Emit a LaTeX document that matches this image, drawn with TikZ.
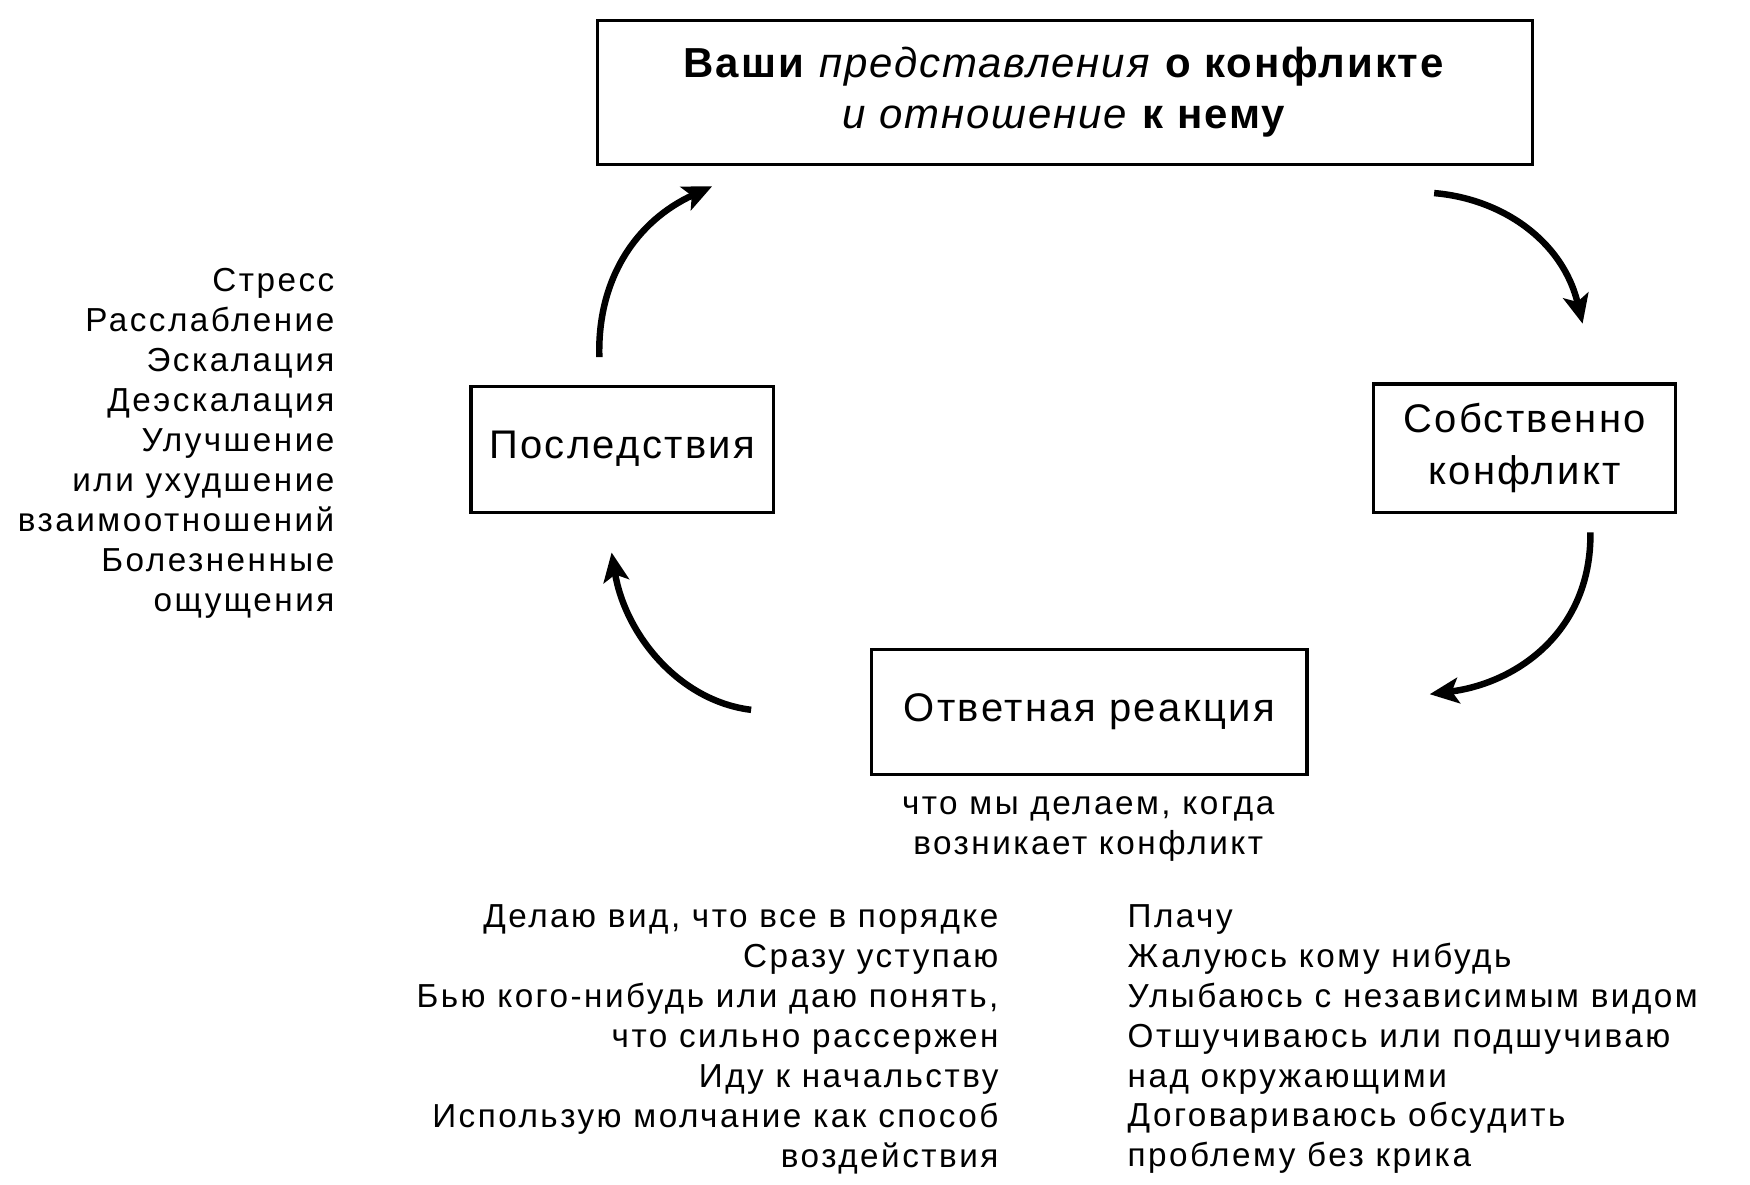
\documentclass[tikz,border=0pt]{standalone}
\usepackage{fontspec}
\setmainfont{Liberation Sans}
\newfontfamily\listfont[LetterSpace=7.5]{Liberation Sans}
\newfontfamily\boxfont[LetterSpace=6]{Liberation Sans}
\newfontfamily\topfont[LetterSpace=4.5]{Liberation Sans}
\usetikzlibrary{arrows.meta}
\begin{document}
\begin{tikzpicture}[x=0.5pt,y=-0.5pt,
  box/.style={draw,line width=1.4pt,inner sep=0pt,align=center},
  boxtext/.style={font=\boxfont\fontsize{17.9}{23}\selectfont},
  listtext/.style={inner sep=0pt,font=\listfont\fontsize{14.9}{17.9}\selectfont},
  cyc/.style={line width=2.9pt,-{Stealth[length=13pt,width=11.5pt,inset=3pt]}}]
\useasboundingbox (0,0) rectangle (1568,1061);
% boxes
\node[box,minimum width=419pt,minimum height=64.5pt,font=\topfont\fontsize{18.8}{22.5}\selectfont] (top) at (954,82.5)
  {\textbf{Ваши} \textit{представления} \textbf{о конфликте}\\\textit{и отношение} \textbf{к нему}};
\node[box,boxtext,minimum width=135.5pt,minimum height=56.5pt] (cons) at (557.5,402.5) {Последствия};
\node[box,boxtext,minimum width=135pt,minimum height=57.5pt] (own) at (1366,401.5) {Собственно\\конфликт};
\node[box,boxtext,minimum width=195pt,minimum height=56pt] (resp) at (976,638) {Ответная реакция};
% texts
\node[listtext,align=center] (sub) at (975,743) {что мы делаем, когда\\возникает конфликт};
\node[listtext,align=right,anchor=east] (left) at (300,397)
  {Стресс\\Расслабление\\Эскалация\\Деэскалация\\Улучшение\\или ухудшение\\взаимоотношений\\Болезненные\\ощущения};
\node[listtext,align=right,anchor=east] (bl) at (895,931)
  {Делаю вид, что все в порядке\\Сразу уступаю\\Бью кого-нибудь или даю понять,\\что сильно рассержен\\Иду к начальству\\Использую молчание как способ\\воздействия};
\node[listtext,align=left,anchor=west] (br) at (1010,931)
  {Плачу\\Жалуюсь кому нибудь\\Улыбаюсь с независимым видом\\Отшучиваюсь или подшучиваю\\над окружающими\\Договариваюсь обсудить\\проблему без крика};
% arrow end points
\coordinate (a1s) at (537,320); \coordinate (a1e) at (638,167);
\coordinate (a2s) at (1285,173); \coordinate (a2e) at (1418,290);
\coordinate (a3s) at (1425,477); \coordinate (a3e) at (1281,622);
\coordinate (a4s) at (673,636); \coordinate (a4e) at (548,495);
\draw[cyc] (a1s) .. controls (535,250) and (570,198) .. (a1e);
\draw[cyc] (a2s) .. controls (1345,178) and (1400,215) .. (a2e);
\draw[cyc] (a3s) .. controls (1426,565) and (1360,612) .. (a3e);
\draw[cyc] (a4s) .. controls (608,628) and (560,568) .. (a4e);
\end{tikzpicture}
\end{document}
